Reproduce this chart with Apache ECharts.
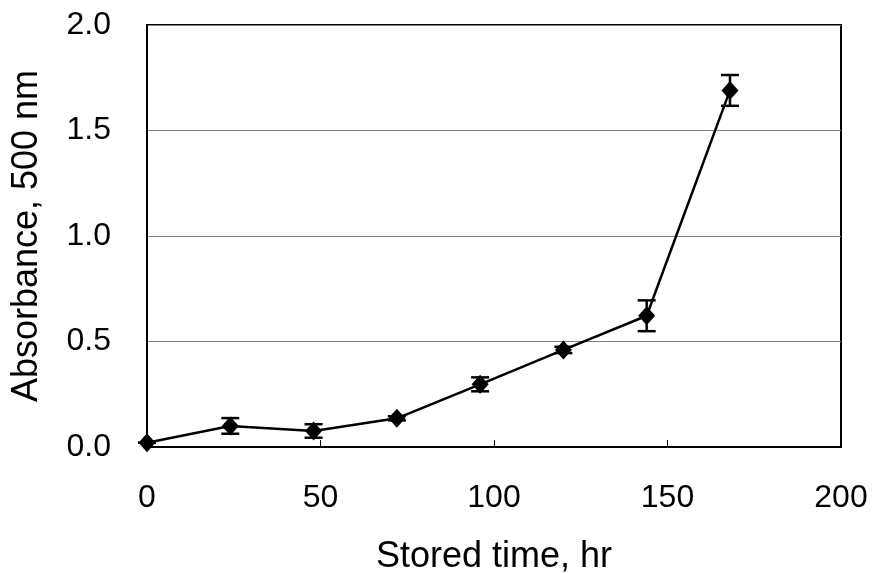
<!DOCTYPE html>
<html>
<head>
<meta charset="utf-8">
<script src="https://cdn.jsdelivr.net/npm/echarts@6/dist/echarts.min.js"></script>
<style>
  html, body { margin: 0; padding: 0; background: #fff; }
  #chart { width: 872px; height: 573px; }
</style>
</head>
<body>
<div id="chart"></div>
<script>
  // stored time (hr) and absorbance readings
  var hours = [0, 24, 48, 72, 96, 120, 144, 168];
  var absorbance = [0.02, 0.10, 0.076, 0.136, 0.297, 0.46, 0.622, 1.69];
  var errors = [0.0, 0.037, 0.032, 0.01, 0.033, 0.015, 0.073, 0.073];
  var xTicks = [0, 50, 100, 150, 200];
  var yTicks = [0.0, 0.5, 1.0, 1.5, 2.0];

  var lineData = hours.map(function (h, i) { return [h, absorbance[i]]; });
  var errData = hours.map(function (h, i) {
    return [h, absorbance[i] - errors[i], absorbance[i] + errors[i]];
  });

  var myChart = echarts.init(document.getElementById('chart'));
  myChart.setOption({
    animation: false,
    backgroundColor: '#fff',
    textStyle: { fontFamily: 'Liberation Sans, Arial, sans-serif' },
    grid: {
      left: 147, right: 31, top: 25, bottom: 126,
      outerBoundsMode: 'none',
      containLabel: false,
      show: true,
      borderColor: '#000',
      borderWidth: 2
    },
    xAxis: {
      type: 'value',
      min: xTicks[0],
      max: xTicks[xTicks.length - 1],
      interval: 50,
      name: 'Stored time, hr',
      nameLocation: 'middle',
      nameGap: 92,
      nameTextStyle: { fontSize: 36, color: '#000' },
      axisLine: { show: true, lineStyle: { color: '#000', width: 2 } },
      axisTick: { show: true, inside: true, length: 7, lineStyle: { color: '#000', width: 1 } },
      axisLabel: { fontSize: 32, color: '#000', margin: 35 },
      splitLine: { show: false }
    },
    yAxis: {
      type: 'value',
      min: yTicks[0],
      max: yTicks[yTicks.length - 1],
      interval: 0.5,
      name: 'Absorbance, 500 nm',
      nameLocation: 'middle',
      nameGap: 102,
      nameTextStyle: { fontSize: 36, color: '#000' },
      axisLine: { show: true, lineStyle: { color: '#000', width: 2 } },
      axisTick: { show: false },
      axisLabel: {
        fontSize: 32, color: '#000', margin: 36,
        padding: [8, 0, 0, 0],
        formatter: function (v) { return v.toFixed(1); }
      },
      splitLine: { show: true, lineStyle: { color: '#808080', width: 1 } }
    },
    series: [
      {
        type: 'line',
        data: lineData,
        symbol: 'diamond',
        symbolSize: [17, 19],
        lineStyle: { color: '#000', width: 2.5 },
        itemStyle: { color: '#000' },
        z: 3
      },
      {
        type: 'custom',
        data: errData,
        z: 4,
        renderItem: function (params, api) {
          var x = api.value(0);
          var lo = api.coord([x, api.value(1)]);
          var hi = api.coord([x, api.value(2)]);
          var w = 9;
          var style = { stroke: '#000', lineWidth: 2.5 };
          return {
            type: 'group',
            children: [
              { type: 'line', shape: { x1: lo[0], y1: lo[1], x2: hi[0], y2: hi[1] }, style: style },
              { type: 'line', shape: { x1: lo[0] - w, y1: lo[1], x2: lo[0] + w, y2: lo[1] }, style: style },
              { type: 'line', shape: { x1: hi[0] - w, y1: hi[1], x2: hi[0] + w, y2: hi[1] }, style: style }
            ]
          };
        }
      }
    ]
  });
</script>
</body>
</html>
